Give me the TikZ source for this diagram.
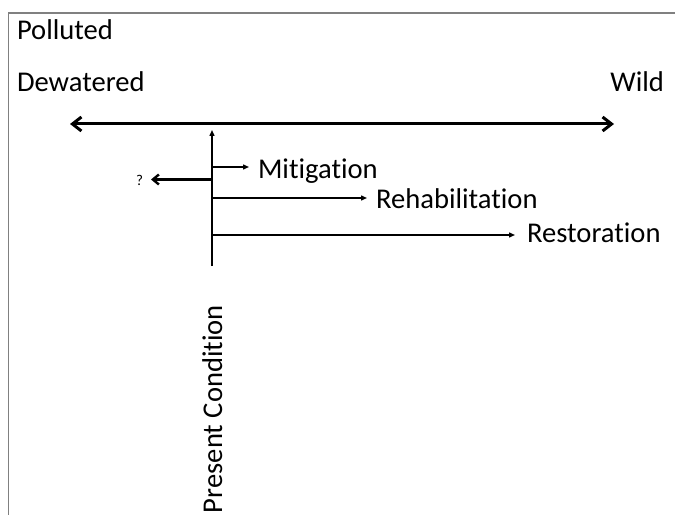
\documentclass[tikz,border=0pt]{standalone}
\usepackage{fontspec}
\setmainfont{Carlito}[Ligatures={NoCommon}]
\usetikzlibrary{arrows.meta}
\tikzset{
  lbl/.style={inner sep=0pt, outer sep=0pt, font=\fontsize{28.6bp}{32bp}\selectfont},
  bigarrow/.style={line width=3bp, {Straight Barb[length=9bp,width=14bp]}-{Straight Barb[length=9bp,width=14bp]}},
  thinarrow/.style={line width=1.4bp, -{Triangle[length=6bp,width=5bp]}},
  qarrow/.style={line width=2.4bp, -{Straight Barb[length=6bp,width=10bp]}},
  frame/.style={line width=1.6bp, draw=black!50}
}
\begin{document}
\begin{tikzpicture}[x=1bp,y=-1bp]
\useasboundingbox (0,0) rectangle (675,515);
% frame
\coordinate (fb) at (8.5,515);
\coordinate (fc) at (8.5,13);
\coordinate (fr) at (675,13);
\draw[frame] (fb) -- (fc) -- (fr);
% labels
\node[lbl, anchor=base west] (pol) at (17,40) {Polluted};
\node[lbl, anchor=base west] (dew) at (17,92) {Dewatered};
\node[lbl, anchor=base east] (wild) at (664,92) {Wild};
\node[lbl, anchor=base west] (mit) at (258,179) {Mitigation};
\node[lbl, anchor=base west] (reh) at (376,209) {Rehabilitation};
\node[lbl, anchor=base west] (res) at (527,243) {Restoration};
\node[lbl, anchor=base west, rotate=90] (pc) at (222,513) {Present Condition};
\node[inner sep=0pt, font=\fontsize{15bp}{18bp}\selectfont, anchor=base] (q) at (139.5,186) {?};
% main axis
\coordinate (L) at (70,124);
\coordinate (R) at (614,124);
\draw[bigarrow] (L) -- (R);
% present condition line
\coordinate (vbot) at (212,266);
\coordinate (vtop) at (212,130);
\draw[thinarrow] (vbot) -- (vtop);
% branches
\coordinate (m0) at (212,167);
\coordinate (m1) at (249,167);
\draw[thinarrow] (m0) -- (m1);
\coordinate (q0) at (212,179.5);
\coordinate (q1) at (151,179.5);
\draw[qarrow] (q0) -- (q1);
\coordinate (r0) at (212,198);
\coordinate (r1) at (367,198);
\draw[thinarrow] (r0) -- (r1);
\coordinate (s0) at (212,235);
\coordinate (s1) at (515,235);
\draw[thinarrow] (s0) -- (s1);
\end{tikzpicture}
\end{document}
